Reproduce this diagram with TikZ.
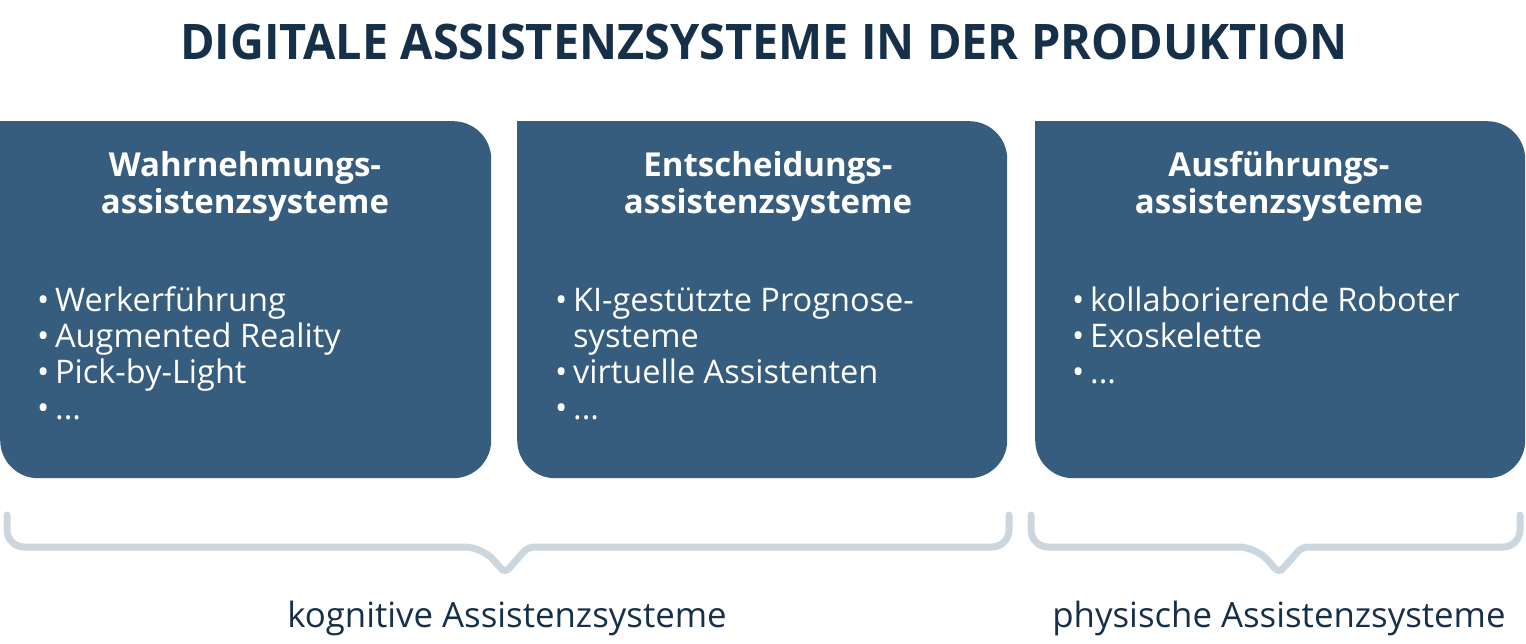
\documentclass[tikz,border=0pt]{standalone}
\usepackage{fontspec}
\setmainfont{Open Sans}
\definecolor{navy}{HTML}{163049}
\definecolor{boxblue}{HTML}{365C7E}
\definecolor{bracegray}{HTML}{CBD6DF}
\newcommand{\itm}{\makebox[18pt][l]{•}}
\tikzset{
  panel/.style={fill=boxblue, rounded corners=38pt, minimum height=357pt,
    inner sep=0pt, anchor=north west},
  headtext/.style={text=white, anchor=base, align=center,
    font=\fontsize{33}{37}\selectfont\bfseries},
  listtext/.style={text=white, anchor=base west, align=left, inner sep=0pt,
    font=\fontsize{32.5}{36}\selectfont},
  brace/.style={draw=bracegray, line width=7pt, line cap=round, line join=round},
  grouptext/.style={text=navy, anchor=base, font=\fontsize{34.8}{40}\selectfont}
}
\begin{document}
\begin{tikzpicture}[x=1pt, y=-1pt]
  \useasboundingbox (0,0) rectangle (1526,644);
  % title
  \node[text=navy, anchor=base, font=\fontsize{49}{55}\selectfont\bfseries]
    (title) at (764,60) {\scalebox{0.956}[1]{DIGITALE ASSISTENZSYSTEME IN DER PRODUKTION}};
  % the three panels
  \node[panel, minimum width=491pt] (wahr) at (0,121) {};
  \node[panel, minimum width=490pt] (ents) at (517,121) {};
  \node[panel, minimum width=490pt] (ausf) at (1035,121) {};
  \fill[boxblue] (wahr.north west) rectangle ++(40,40);
  \fill[boxblue] (ents.north west) rectangle ++(40,40);
  \fill[boxblue] (ausf.north west) rectangle ++(40,40);
  % headings (base = last line)
  \node[headtext] (wahrhead) at (245,214) {Wahrnehmungs-\\assistenzsysteme};
  \node[headtext] (entshead) at (768,214) {Entscheidungs-\\assistenzsysteme};
  \node[headtext] (ausfhead) at (1279,214) {Ausführungs-\\assistenzsysteme};
  % lists
  \node[listtext] (wahrlist) at (37,419)
    {\itm Werkerführung\\ \itm Augmented Reality\\ \itm Pick-by-Light\\ \itm ...};
  \node[listtext] (entslist) at (555,419)
    {\itm KI-gestützte Prognose-\\ \hspace*{18pt}systeme\\ \itm virtuelle Assistenten\\ \itm ...};
  \node[listtext] (ausflist) at (1072,383)
    {\itm kollaborierende Roboter\\ \itm Exoskelette\\ \itm ...};
  % braces
  \coordinate (kogl) at (7,515);
  \coordinate (kogr) at (1009,515);
  \coordinate (kogtip) at (505,573);
  \coordinate (phyl) at (1031,515);
  \coordinate (phyr) at (1520,515);
  \coordinate (phytip) at (1279,573);
  \draw[brace] (kogl) [rounded corners=17pt] -- (7,547) -- (482,547)
    [rounded corners=6pt] -- (kogtip) -- (528,547)
    [rounded corners=17pt] -- (1009,547) -- (kogr);
  \draw[brace] (phyl) [rounded corners=17pt] -- (1031,547) -- (1256,547)
    [rounded corners=6pt] -- (phytip) -- (1302,547)
    [rounded corners=17pt] -- (1520,547) -- (phyr);
  \node[grouptext] (kog) at (507,627) {kognitive Assistenzsysteme};
  \node[grouptext] (phy) at (1279,627) {physische Assistenzsysteme};
\end{tikzpicture}
\end{document}
